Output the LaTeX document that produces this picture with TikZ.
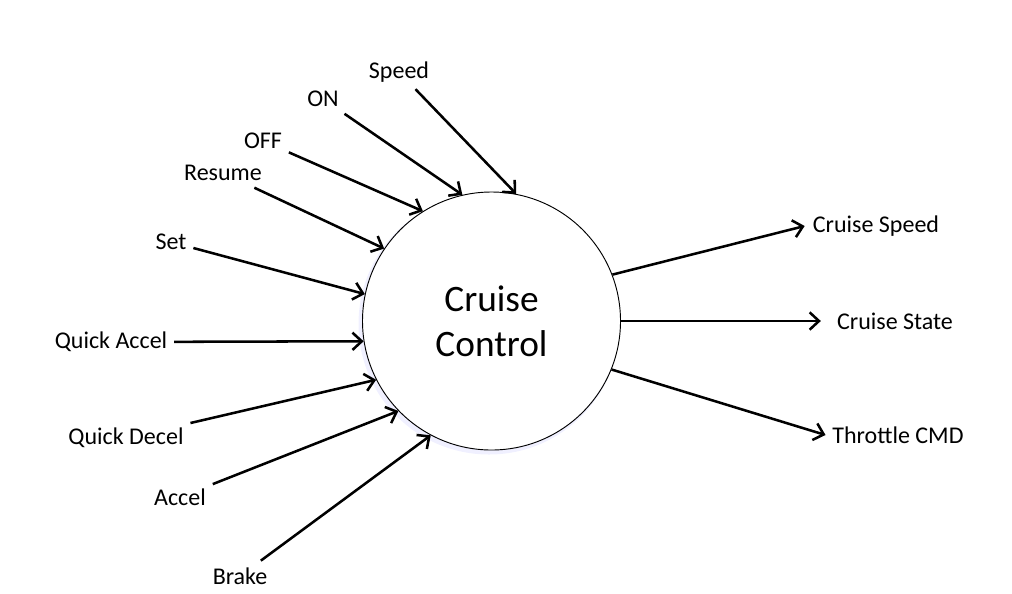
\documentclass[tikz,border=0pt]{standalone}
\usepackage{fontspec}
\setmainfont{Carlito}
\usepackage{tikz}
\usetikzlibrary{arrows.meta}

\begin{document}
\begin{tikzpicture}[x=0.75pt,y=-0.75pt]
			\tikzstyle{lbl}=[font=\fontsize{18}{22}\selectfont,inner sep=5pt]
			\tikzstyle{flow}=[line width=1.9pt,-{Straight Barb[length=7pt,width=13pt]}]
			\useasboundingbox (0,0) rectangle (1012,593);
				\fill [blue!6] (489,324) circle (130.5);
				\node [circle,draw,fill=white,line width=0.7pt,minimum size=193.5pt,inner sep=0pt,align=center,font=\fontsize{28}{34}\selectfont] (cc) at (491.5,321) {Cruise\\Control};
				\node [lbl] (spd) at (399,72) {Speed};
				\node [lbl] (on) at (323,99) {ON};
				\node [lbl] (off) at (263,141) {OFF};
				\node [lbl] (res) at (223,173) {Resume};
				\node [lbl] (set) at (171,242) {Set};
				\node [lbl] (qa) at (111,342) {Quick Accel};
				\node [lbl] (qd) at (126,438) {Quick Decel};
				\node [lbl] (acc) at (180,497) {Accel};
				\node [lbl] (brk) at (240,576) {Brake};
				\node [lbl] (csp) at (876,226) {Cruise Speed};
				\node [lbl] (cst) at (895,321) {Cruise State};
				\node [lbl] (thr) at (898,435) {Throttle CMD};
				\draw [flow] (spd) to (cc.79.4);
				\draw [flow] (on) to (cc.103.2);
				\draw [flow] (off) to (cc.122.5);
				\draw [flow] (res) to (cc.146.3);
				\draw [flow] (set) to (cc.168.6);
				\draw [flow] (qa) to (cc.189.9);
				\draw [flow] (qd) to (cc.207.5);
				\draw [flow] (acc) to (cc.224.8);
				\draw [flow] (brk) to (cc.242.2);
				\draw [flow] (cc.21.6) to ([xshift=-1pt]csp.west);
				\draw [flow] (cc.0) to ([xshift=-7pt]cst.west);
				\draw [flow] (cc.-22.9) to (thr.west);
	\end{tikzpicture}
\end{document}
